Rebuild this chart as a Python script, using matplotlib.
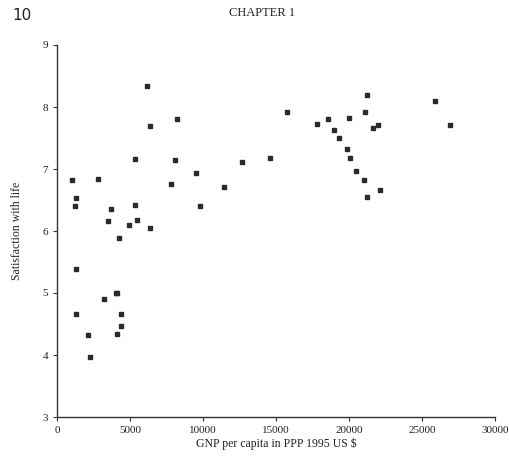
import matplotlib
matplotlib.use("Agg")
import matplotlib.pyplot as plt

# GNP per capita (PPP 1995 US $) and satisfaction with life
gnp = [6144, 6370, 8240, 5342, 8060, 12690, 1050, 2785, 9520, 7810,
       11415, 1275, 1210, 3675, 5320, 9795, 3490, 5500, 4955, 6350,
       4270, 14570, 15775, 17785, 18540, 19975, 21115, 21210, 18990, 19290,
       21640, 21960, 19885, 20070, 20455, 21050, 22120, 21210, 25870, 26920,
       1275, 1275, 3240, 4020, 4130, 4360, 4360, 4090, 2120, 2260]
satisfaction = [8.34, 7.70, 7.80, 7.16, 7.15, 7.11, 6.82, 6.84, 6.93, 6.75,
                6.71, 6.53, 6.41, 6.36, 6.42, 6.40, 6.16, 6.18, 6.09, 6.05,
                5.89, 7.18, 7.92, 7.72, 7.81, 7.82, 7.92, 8.20, 7.63, 7.50,
                7.66, 7.71, 7.33, 7.17, 6.97, 6.82, 6.66, 6.55, 8.09, 7.71,
                5.39, 4.66, 4.90, 5.00, 5.00, 4.66, 4.46, 4.34, 4.32, 3.96]

x_ticks = [0, 5000, 10000, 15000, 20000, 25000, 30000]
y_ticks = [3, 4, 5, 6, 7, 8, 9]

plt.rcParams['font.family'] = ['Liberation Serif', 'DejaVu Serif']

W, H = 509, 461
fig = plt.figure(figsize=(W / 100, H / 100), dpi=100)
ax = fig.add_axes([57 / W, 1 - 417 / H, (495 - 57) / W, (417 - 45) / H])

ax.plot(gnp, satisfaction, linestyle='none', marker='s', markersize=3.4,
        color='#2b2b2b')

ax.set_xlim(0, 30000)
ax.set_ylim(3, 9)
ax.set_xticks(x_ticks)
ax.set_yticks(y_ticks)
ax.tick_params(labelsize=8, length=3, width=0.8, color='#333333',
               labelcolor='#222222')
for s in ['top', 'right']:
    ax.spines[s].set_visible(False)
for s in ['left', 'bottom']:
    ax.spines[s].set_linewidth(1.0)
    ax.spines[s].set_color('#333333')

ax.set_xlabel('GNP per capita in PPP 1995 US $', fontsize=8.5,
              color='#222222', labelpad=2)
ax.set_ylabel('Satisfaction with life', fontsize=8.5, color='#222222',
              labelpad=14)

fig.text(12 / W, 1 - 15 / H, '10', fontsize=11, family='DejaVu Sans',
         va='center', ha='left', color='#222222')
fig.text(262 / W, 1 - 13 / H, 'CHAPTER 1', fontsize=9, va='center',
         ha='center', color='#222222')

fig.savefig('out.png', dpi=100)
